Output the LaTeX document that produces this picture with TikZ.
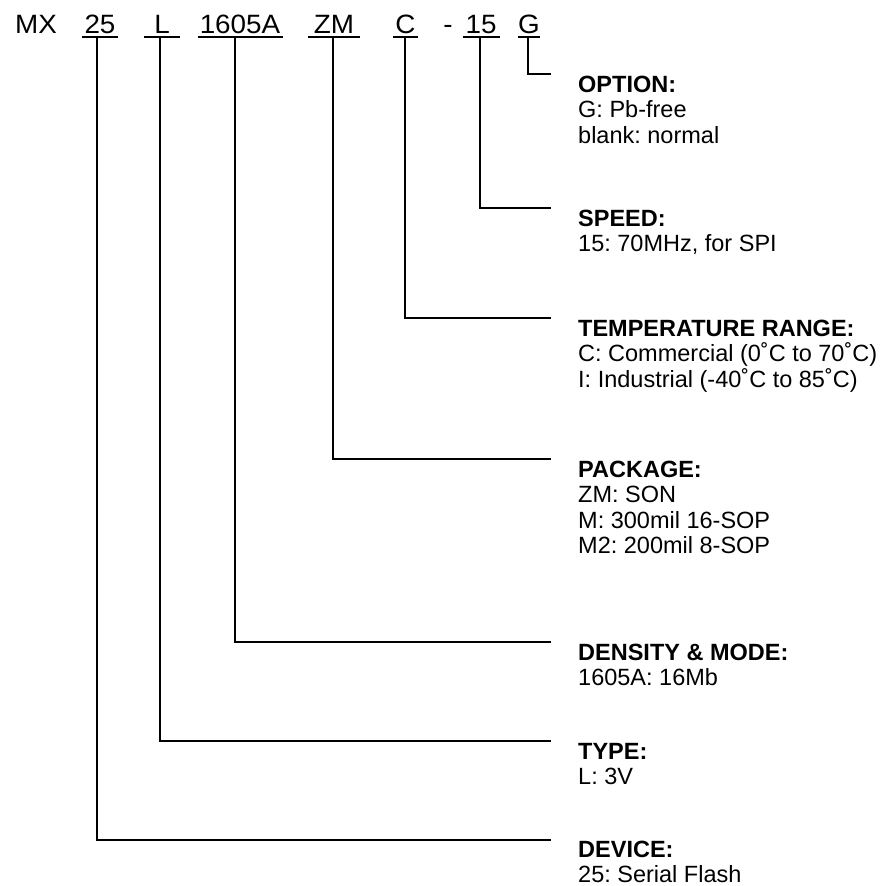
\documentclass[tikz,border=0pt]{standalone}
\usepackage{fontspec}
\setmainfont{Liberation Sans}
\newfontfamily\hdrfont[FakeStretch=1.05]{Liberation Sans}
\newfontfamily\labfont{Liberation Sans}
\frenchspacing
\begin{document}
\begin{tikzpicture}[x=1pt,y=-1pt,
  hdr/.style={inner sep=0pt,anchor=base,font=\hdrfont\fontsize{26.5}{30}\selectfont},
  ttl/.style={inner sep=0pt,anchor=base west,font=\labfont\bfseries\fontsize{23.5}{25.5}\selectfont\frenchspacing},
  sub/.style={inner sep=0pt,anchor=base west,font=\labfont\fontsize{23.5}{25.5}\selectfont\frenchspacing},
  ln/.style={line width=1.8pt,line cap=rect},
  ul/.style={line width=1.8pt}]
\useasboundingbox[fill=white] (0,0) rectangle (883,886);
% header
\node[hdr,anchor=base west] (mx) at (15,33) {MX};
\node[hdr] (p25) at (100,33) {25};
\node[hdr] (pL) at (162,33) {L};
\node[hdr] (pd) at (240,33) {1605A};
\node[hdr] (pzm) at (334,33) {ZM};
\node[hdr] (pc) at (405.5,33) {C};
\node[hdr] (dash) at (448,33) {-};
\node[hdr] (p15) at (481,33) {15};
\node[hdr] (pg) at (529,33) {G};
% underlines
\draw[ul] ([xshift=-18pt,yshift=-4pt]p25.base) -- ([xshift=18pt,yshift=-4pt]p25.base);
\draw[ul] ([xshift=-18pt,yshift=-4pt]pL.base) -- ([xshift=18pt,yshift=-4pt]pL.base);
\draw[ul] ([xshift=-42.5pt,yshift=-4pt]pd.base) -- ([xshift=42.5pt,yshift=-4pt]pd.base);
\draw[ul] ([xshift=-26pt,yshift=-4pt]pzm.base) -- ([xshift=26pt,yshift=-4pt]pzm.base);
\draw[ul] ([xshift=-12.5pt,yshift=-4pt]pc.base) -- ([xshift=12.5pt,yshift=-4pt]pc.base);
\draw[ul] ([xshift=-18.5pt,yshift=-4pt]p15.base) -- ([xshift=18.5pt,yshift=-4pt]p15.base);
\draw[ul] ([xshift=-11pt,yshift=-4pt]pg.base) -- ([xshift=11pt,yshift=-4pt]pg.base);
% labels
\node[ttl] (opt) at (578,92) {OPTION:};
\node[sub] (opt1) at (578,117.5) {G: Pb-free};
\node[sub] (opt2) at (578,143) {blank: normal};
\node[ttl] (spd) at (578,226) {SPEED:};
\node[sub] (spd1) at (578,251.5) {15: 70MHz, for SPI};
\node[ttl] (tmp) at (578,336) {TEMPERATURE RANGE:};
\node[sub] (tmp1) at (578,361.5) {C: Commercial (0˚C to 70˚C)};
\node[sub] (tmp2) at (578,387) {I: Industrial (-40˚C to 85˚C)};
\node[ttl] (pkg) at (578,477) {PACKAGE:};
\node[sub] (pkg1) at (578,502.5) {ZM: SON};
\node[sub] (pkg2) at (578,528) {M: 300mil 16-SOP};
\node[sub] (pkg3) at (578,553.5) {M2: 200mil 8-SOP};
\node[ttl] (den) at (578,660) {DENSITY \& MODE:};
\node[sub] (den1) at (578,685.5) {1605A: 16Mb};
\node[ttl] (typ) at (578,759) {TYPE:};
\node[sub] (typ1) at (578,784.5) {L: 3V};
\node[ttl] (dev) at (578,857.5) {DEVICE:};
\node[sub] (dev1) at (578,882.5) {25: Serial Flash};
% connector ends
\coordinate (eg) at (550,74);
\coordinate (e15) at (550,208);
\coordinate (ec) at (550,318);
\coordinate (ezm) at (550,459);
\coordinate (ed) at (550,642);
\coordinate (eL) at (550,741);
\coordinate (e25) at (550,840);
% connectors
\draw[ln] ([xshift=-1pt,yshift=-4pt]pg.base) |- (eg);
\draw[ln] ([xshift=-1pt,yshift=-4pt]p15.base) |- (e15);
\draw[ln] ([xshift=-0.5pt,yshift=-4pt]pc.base) |- (ec);
\draw[ln] ([xshift=-1pt,yshift=-4pt]pzm.base) |- (ezm);
\draw[ln] ([xshift=-5pt,yshift=-4pt]pd.base) |- (ed);
\draw[ln] ([xshift=-2pt,yshift=-4pt]pL.base) |- (eL);
\draw[ln] ([xshift=-3pt,yshift=-4pt]p25.base) |- (e25);
\end{tikzpicture}
\end{document}
